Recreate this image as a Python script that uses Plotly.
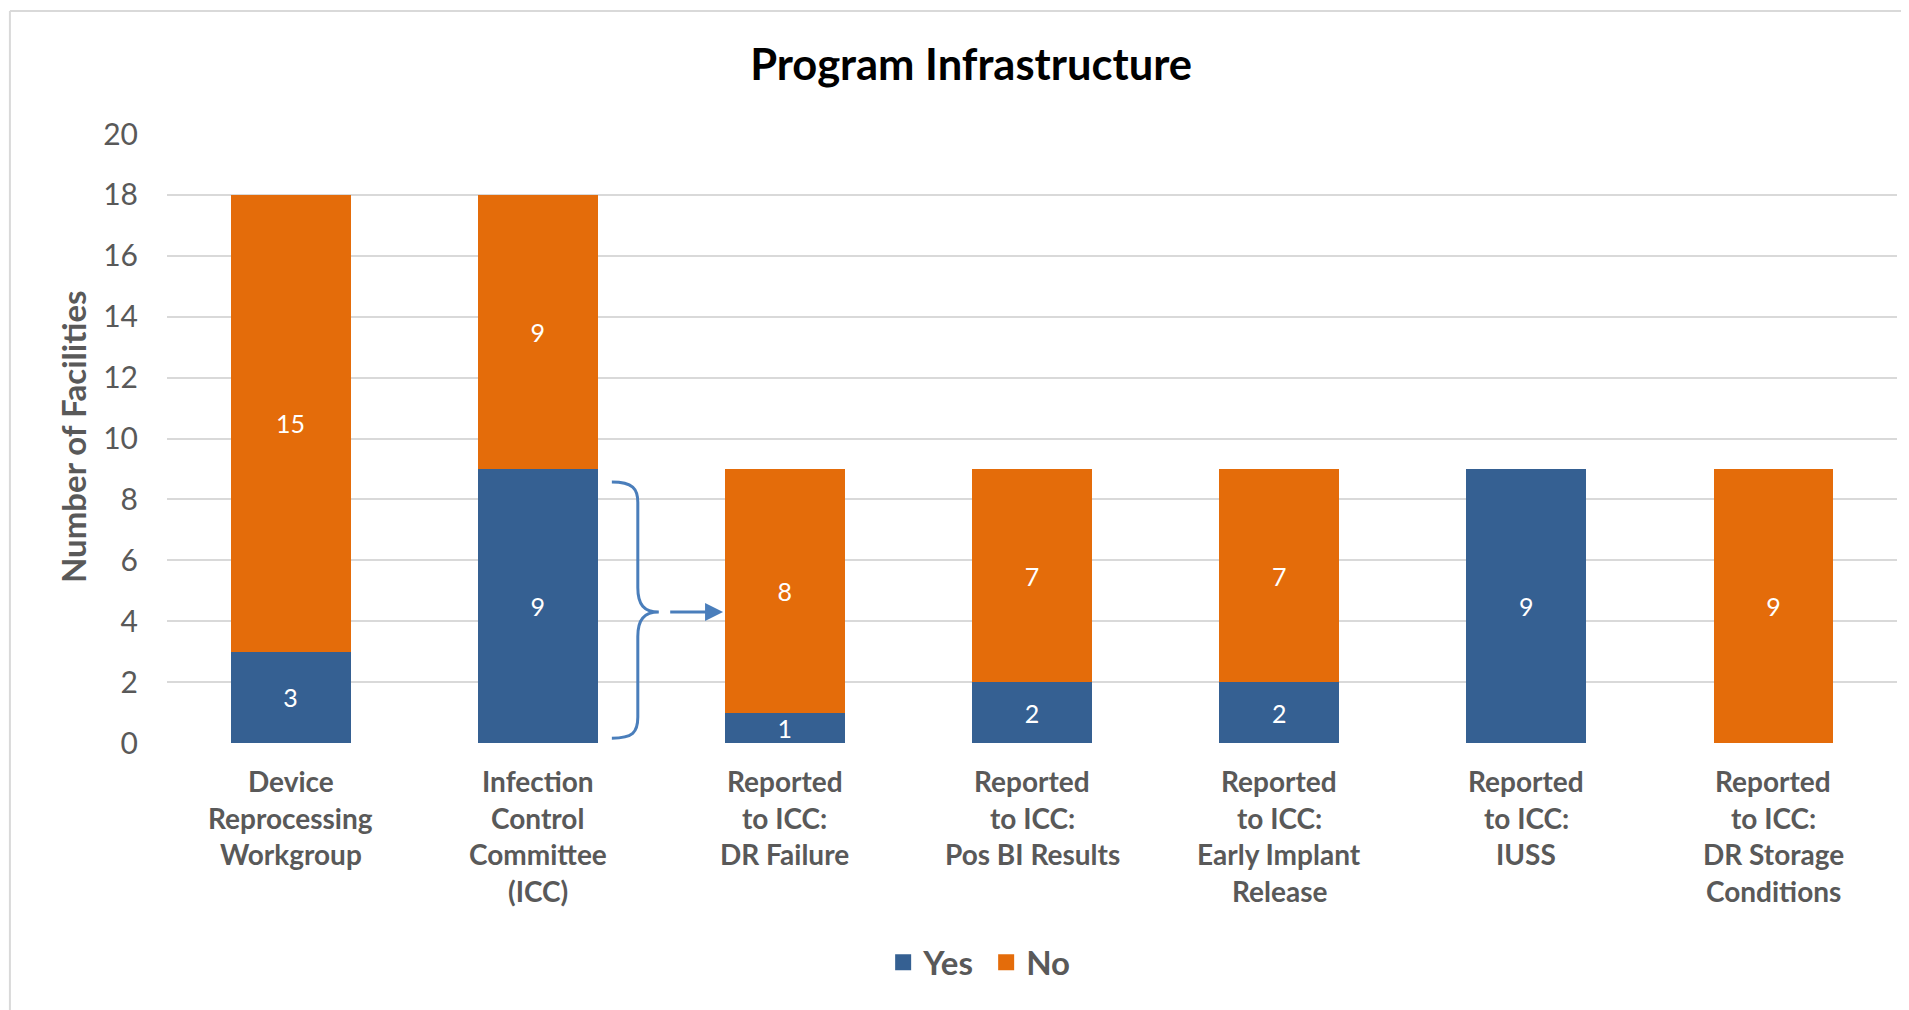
import plotly.graph_objects as go

# data
categories = [
    "Device<br>Reprocessing<br>Workgroup",
    "Infection<br>Control<br>Committee<br>(ICC)",
    "Reported<br>to ICC:<br>DR Failure",
    "Reported<br>to ICC:<br>Pos BI Results",
    "Reported<br>to ICC:<br>Early Implant<br>Release",
    "Reported<br>to ICC:<br>IUSS",
    "Reported<br>to ICC:<br>DR Storage<br>Conditions",
]
yes_counts = [3, 9, 1, 2, 2, 9, 0]
no_counts = [15, 9, 8, 7, 7, 0, 9]
y_ticks = [0, 2, 4, 6, 8, 10, 12, 14, 16, 18, 20]

BLUE = "#356092"
ORANGE = "#E46C0A"
GREY = "#595959"
GRID = "#D9D9D9"
BRACE = "#4A7EBB"
FONT = "Lato"

x_idx = list(range(len(categories)))

fig = go.Figure()

def seg_text(vals):
    return [str(v) if v else "" for v in vals]

for name, vals, col in [("Yes", yes_counts, BLUE), ("No", no_counts, ORANGE)]:
    fig.add_trace(go.Bar(
        x=x_idx, y=vals, name=name, legendgroup=name, showlegend=False,
        marker=dict(color=col, line=dict(width=0)),
        text=seg_text(vals), textposition="inside", insidetextanchor="middle",
        textangle=0, constraintext="none",
        textfont=dict(family=FONT, size=25, color="white"),
        hoverinfo="y+name",
    ))
    # legend entry with a bigger square than the bar icon
    fig.add_trace(go.Scatter(
        x=[None], y=[None], mode="markers", name=name, legendgroup=name,
        marker=dict(symbol="square", size=16, color=col),
        hoverinfo="skip",
    ))

# category labels, one annotation per line so the line pitch matches
for i, label in enumerate(categories):
    for j, line in enumerate(label.split("<br>")):
        fig.add_annotation(
            x=i, y=0, xref="x", yref="y", text=line,
            showarrow=False, xanchor="center", yanchor="middle",
            yshift=-(38 + 36.5 * j),
            font=dict(family=FONT, size=28, color=GREY, weight="bold"),
        )

# curly brace from ICC "Yes" to the reported-to-ICC bars
brace = ("M 1.30,8.57 C 1.385,8.57 1.405,8.35 1.405,7.9 "
         "L 1.405,5.1 C 1.405,4.55 1.43,4.3 1.49,4.3 "
         "C 1.43,4.3 1.405,4.05 1.405,3.5 "
         "L 1.405,0.85 C 1.405,0.35 1.385,0.16 1.30,0.16")
fig.add_shape(type="path", path=brace, xref="x", yref="y",
              line=dict(color=BRACE, width=3))
fig.add_annotation(
    x=1.75, y=4.3, ax=1.53, ay=4.3, xref="x", yref="y", axref="x", ayref="y",
    text="", showarrow=True, arrowhead=2, arrowsize=1.2, arrowwidth=3,
    arrowcolor=BRACE,
)

# axis title
fig.add_annotation(
    x=-0.0543, y=0.5025, xref="paper", yref="paper", textangle=-90,
    text="Number of Facilities", showarrow=False,
    xanchor="center", yanchor="middle",
    font=dict(family=FONT, size=33, color=GREY, weight="bold"),
)

# chart frame (left and top edges)
fig.add_shape(type="line", xref="paper", yref="paper",
              x0=-0.0908, x1=-0.0908, y0=-0.47, y1=1.202,
              line=dict(color="#D9D9D9", width=2))
fig.add_shape(type="line", xref="paper", yref="paper",
              x0=-0.0908, x1=1.02, y0=1.202, y1=1.202,
              line=dict(color="#D9D9D9", width=2))
fig.add_shape(type="line", xref="paper", yref="paper",
              x0=-0.0965, x1=1.02, y0=1.209, y1=1.209,
              line=dict(color="#E6E6E6", width=2))

fig.update_layout(
    barmode="stack",
    bargap=0.515,
    width=1909, height=1010,
    margin=dict(l=159, r=20, t=126, b=275),
    paper_bgcolor="white", plot_bgcolor="white",
    font=dict(family=FONT, color=GREY),
    title=dict(text="Program Infrastructure", x=0.5045, xref="container",
               y=0.9436, yref="container", xanchor="center", yanchor="middle",
               font=dict(family=FONT, size=43.5, color="black", weight="bold")),
    uniformtext=dict(mode="show", minsize=25),
    legend=dict(orientation="h", x=0.4735, y=-0.36, xanchor="center",
                yanchor="middle", itemsizing="trace", entrywidth=58,
                font=dict(family=FONT, size=33, color=GREY, weight="bold"),
                itemwidth=30, traceorder="normal"),
    showlegend=True,
)
fig.update_xaxes(range=[-0.5, len(categories) - 0.5], tickvals=x_idx,
                 showticklabels=False, showgrid=False, zeroline=False,
                 showline=False, ticks="")
fig.update_yaxes(range=[0, 20], tickvals=y_ticks, showgrid=True,
                 gridcolor=GRID, gridwidth=2, zeroline=False, showline=False,
                 ticks="", ticklabelstandoff=28,
                 tickfont=dict(family=FONT, size=30, color=GREY))

fig.write_html("out.html")
